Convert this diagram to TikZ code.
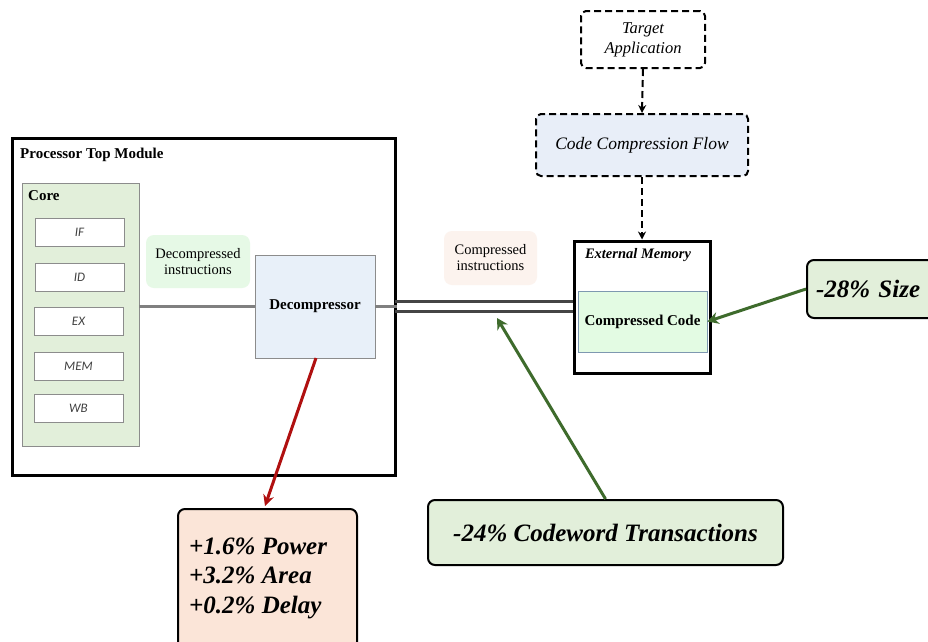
\documentclass[tikz,border=0pt]{standalone}
\usepackage{fontspec}
\setmainfont{Liberation Serif}
\newfontfamily\stagefont{Carlito}
\usetikzlibrary{arrows.meta}
\definecolor{coregreen}{HTML}{E2EFDA}
\definecolor{palegreen}{HTML}{E6F9E6}
\definecolor{codegreen}{HTML}{E3FBE3}
\definecolor{paleblue}{HTML}{E8F0F9}
\definecolor{flowblue}{HTML}{E8EEF8}
\definecolor{paleorange}{HTML}{FCF3EE}
\definecolor{powerorange}{HTML}{FBE5D8}
\definecolor{arrowgreen}{HTML}{3E6B2C}
\definecolor{arrowred}{HTML}{B01010}
\definecolor{busgray}{HTML}{454545}
\definecolor{linkgray}{HTML}{808080}
\definecolor{edgegray}{HTML}{8C8C8C}
\definecolor{codeedge}{HTML}{7E98B0}
\tikzset{
  stagebox/.style={draw=edgegray, fill=white, line width=0.8pt, minimum width=89pt, minimum height=28pt, font=\stagefont\itshape\fontsize{13}{15}\selectfont, text=black!75},
  labelbox/.style={rounded corners=8pt, align=center, font=\fontsize{14.5}{17}\selectfont, inner sep=0pt},
  dashbox/.style={draw, dash pattern=on 7pt off 4pt, line width=2pt, rounded corners=5pt, align=center, font=\itshape\fontsize{16.5}{20}\selectfont, inner sep=0pt},
  resultbox/.style={draw, line width=2pt, rounded corners=7pt, fill=coregreen, font=\bfseries\itshape\fontsize{25}{29}\selectfont, inner sep=0pt},
  flowarrow/.style={dash pattern=on 7pt off 4pt, line width=2pt, -{Stealth[length=8pt,width=8pt]}},
  greenarrow/.style={draw=arrowgreen, line width=3pt, -{Stealth[length=11pt,width=12pt]}},
}
\begin{document}
\begin{tikzpicture}[x=1pt,y=-1pt]
\useasboundingbox (0,0) rectangle (928,641);
\fill[white] (0,0) rectangle (928,641);

% processor top module
\node[draw, line width=3pt, minimum width=383pt, minimum height=337pt, inner sep=0pt] (ptm) at (203.5,306.5) {};
\node[anchor=west, font=\bfseries\fontsize{15}{18}\selectfont, inner sep=0pt] (ptmt) at (20,155) {Processor Top Module};

% core with pipeline stages
\node[draw=edgegray, fill=coregreen, line width=0.8pt, minimum width=117pt, minimum height=263pt, inner sep=0pt] (core) at (80.5,314.5) {};
\node[anchor=west, font=\bfseries\fontsize{15}{18}\selectfont, inner sep=0pt] (coret) at (28,196) {Core};
\node[stagebox] (if) at (79.5,232) {IF};
\node[stagebox] (id) at (79.5,277) {ID};
\node[stagebox] (ex) at (78.5,321.5) {EX};
\node[stagebox] (mem) at (78.5,366) {MEM};
\node[stagebox] (wb) at (78.5,408.5) {WB};

% decompressor
\node[labelbox, fill=palegreen, minimum width=104pt, minimum height=53pt] (dlab) at (198,261.5) {Decompressed\\[-1pt]instructions};
\node[draw=edgegray, fill=paleblue, line width=0.8pt, minimum width=120pt, minimum height=103pt, inner sep=0pt, font=\bfseries\fontsize{15}{18}\selectfont] (dec) at (315,306.5) {Decompressor};
\draw[linkgray, line width=3pt] (core.east |- dec.west) -- (dec.west);
\coordinate (ptmr) at (ptm.east |- dec.east);
\draw[linkgray, line width=3pt] (dec.east) -- (ptmr);

% external memory
\node[draw, line width=3pt, minimum width=136pt, minimum height=132pt, inner sep=0pt] (ext) at (642,307) {};
\node[font=\bfseries\itshape\fontsize{14.5}{17}\selectfont, inner sep=0pt] (extt) at (638,255) {External Memory};
\node[draw=codeedge, fill=codegreen, line width=0.8pt, minimum width=129pt, minimum height=61pt, inner sep=0pt, font=\bfseries\fontsize{15}{18}\selectfont] (code) at (642.5,321.5) {Compressed Code};

% bus between processor and memory
\node[labelbox, fill=paleorange, minimum width=93pt, minimum height=54pt] (clab) at (490.5,258) {Compressed\\[-1pt]instructions};
\coordinate (busa) at (395,301);
\coordinate (busb) at (395,311);
\draw[busgray, line width=3pt] (busa) -- (busa -| ext.west);
\draw[busgray, line width=3pt] (busb) -- (busb -| ext.west);

% compression flow
\node[dashbox, minimum width=124pt, minimum height=57pt] (app) at (643,39.5) {Target\\Application};
\node[dashbox, fill=flowblue, minimum width=212pt, minimum height=62pt, font=\itshape\fontsize{17.5}{20}\selectfont] (flow) at (642,145) {Code Compression Flow};
\draw[flowarrow] (app.south) -- (flow.north);
\draw[flowarrow] (flow.south) -- (flow.south |- ext.north);

% results
\node[resultbox, anchor=west, minimum width=130pt, minimum height=58pt, text width=118pt, align=left] (size) at (806,289) {\hspace*{3pt}-28\% Size};
\draw[greenarrow] (size.west) -- (code.east);

\node[resultbox, minimum width=355pt, minimum height=65pt] (trans) at (605.5,532.5) {-24\% Codeword Transactions};
\coordinate (bushit) at (497,318);
\draw[greenarrow] (trans.north) -- (bushit);

\node[resultbox, fill=powerorange, anchor=north west, minimum width=179pt, minimum height=140pt] (power) at (177,508) {};
\node[anchor=west, align=left, font=\bfseries\itshape\fontsize{25}{29.5}\selectfont, inner sep=0pt] (powert) at (189,578) {+1.6\% Power\\+3.2\% Area\\+0.2\% Delay};
\coordinate (hit) at (265,506);
\draw[arrowred, line width=3pt, -{Stealth[length=11pt,width=11pt]}] (316,358) -- (hit);
\end{tikzpicture}
\end{document}
